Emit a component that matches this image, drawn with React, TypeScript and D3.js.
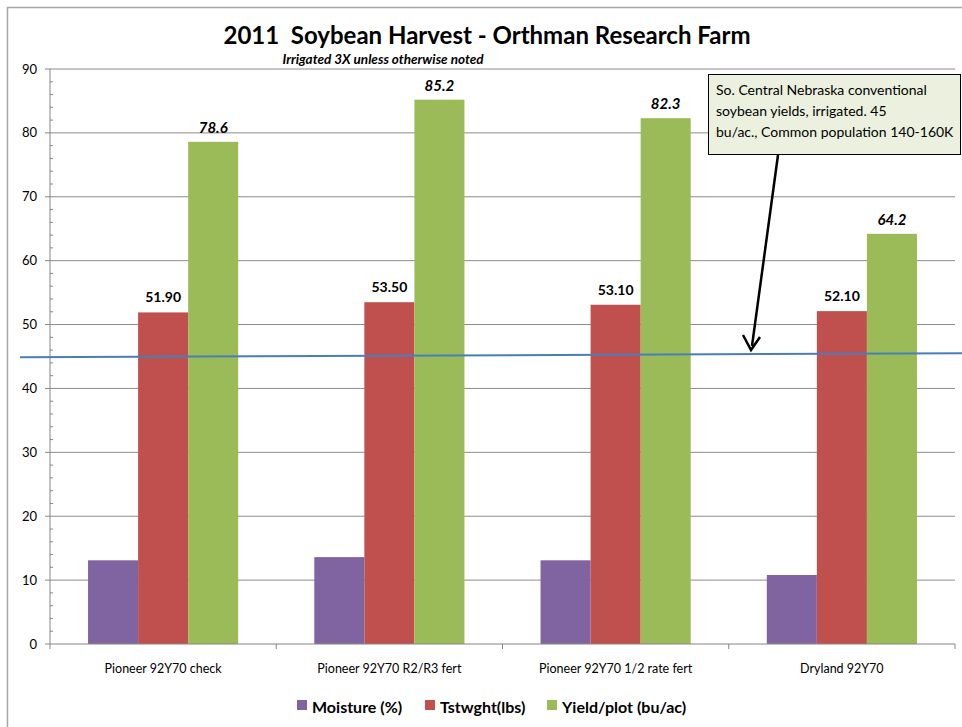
import React from 'react';
import * as d3 from 'd3';

const categories = ['Pioneer 92Y70 check', 'Pioneer 92Y70 R2/R3 fert', 'Pioneer 92Y70 1/2 rate fert', 'Dryland 92Y70'];
const seriesNames = ['Moisture (%)', 'Tstwght(lbs)', 'Yield/plot (bu/ac)'];
const moisture = [13.1, 13.6, 13.1, 10.8];
const tstwght = [51.9, 53.5, 53.1, 52.1];
const yieldPlot = [78.6, 85.2, 82.3, 64.2];
const yTicks = [0, 10, 20, 30, 40, 50, 60, 70, 80, 90];
const referenceYield = [44.9, 45.5];
const noteLines = [
  'So. Central Nebraska conventional',
  'soybean yields, irrigated. 45',
  'bu/ac., Common population 140-160K',
];

const colors = ['#8064A2', '#C0504D', '#9BBB59'];
const font = 'Lato, "Open Sans", Arial, sans-serif';

const W = 962;
const H = 727;
const margin = { left: 50, right: 7, top: 69, bottom: 83 };

const App: React.FC = () => {
  const x = d3.scaleBand<string>()
    .domain(categories)
    .range([margin.left, W - margin.right])
    .paddingInner(0)
    .paddingOuter(0);
  const y = d3.scaleLinear().domain([0, 90]).range([H - margin.bottom, margin.top]);
  const inner = d3.scaleBand<number>()
    .domain([0, 1, 2])
    .range([0, x.bandwidth()])
    .paddingOuter(0.76)
    .paddingInner(0);

  const series = [moisture, tstwght, yieldPlot];
  const minorTicks = d3.range(0, 90, 2).filter(v => v % 10 !== 0);
  const x0 = margin.left;
  const x1 = W - margin.right;

  return (
    <svg width={W} height={H} style={{ position: 'absolute', left: 0, top: 0, background: '#fff' }}>
      {/* chart frame */}
      <rect x={7.5} y={7.5} width={W + 10} height={H + 10} fill="#fff" stroke="#A6A6A6" strokeWidth={1.5} />

      <text x={487} y={44} textAnchor="middle" fontFamily={font} fontWeight="bold" fontSize={24} style={{ whiteSpace: 'pre' }}>
        {'2011  Soybean Harvest - Orthman Research Farm'}
      </text>
      <text x={383} y={64} textAnchor="middle" fontFamily={font} fontWeight="bold" fontStyle="italic" fontSize={13.5}>
        Irrigated 3X unless otherwise noted
      </text>

      {/* gridlines */}
      {yTicks.filter(t => t > 0).map(t => (
        <line key={t} x1={x0} x2={x1} y1={y(t)} y2={y(t)} stroke="#8C8C8C" strokeWidth={1} />
      ))}

      {/* bars */}
      {categories.map((c, i) => (
        <g key={c}>
          {series.map((s, j) => (
            <rect
              key={j}
              x={(x(c) ?? 0) + (inner(j) ?? 0)}
              y={y(s[i])}
              width={inner.bandwidth()}
              height={y(0) - y(s[i])}
              fill={colors[j]}
            />
          ))}
          <text
            x={(x(c) ?? 0) + (inner(1) ?? 0) + inner.bandwidth() / 2}
            y={y(tstwght[i]) - 10}
            textAnchor="middle"
            fontFamily={font}
            fontWeight="bold"
            fontSize={14}
          >
            {tstwght[i].toFixed(2)}
          </text>
          <text
            x={(x(c) ?? 0) + (inner(2) ?? 0) + inner.bandwidth() / 2}
            y={y(yieldPlot[i]) - 9}
            textAnchor="middle"
            fontFamily={font}
            fontWeight="bold"
            fontStyle="italic"
            fontSize={15}
          >
            {yieldPlot[i].toFixed(1)}
          </text>
          <text
            x={(x(c) ?? 0) + x.bandwidth() / 2}
            y={y(0) + 29}
            textAnchor="middle"
            fontFamily={font}
            fontSize={12.5}
          >
            {c}
          </text>
        </g>
      ))}

      {/* y axis */}
      <line x1={x0} x2={x0} y1={y(90)} y2={y(0)} stroke="#868686" strokeWidth={1} />
      {yTicks.map(t => (
        <g key={t}>
          <line x1={x0 - 5} x2={x0} y1={y(t)} y2={y(t)} stroke="#868686" />
          <text x={37} y={y(t) + 4.5} textAnchor="end" fontFamily={font} fontSize={13}>{t}</text>
        </g>
      ))}
      {minorTicks.map(t => (
        <line key={t} x1={x0} x2={x0 + 3} y1={y(t)} y2={y(t)} stroke="#868686" />
      ))}

      {/* x axis */}
      <line x1={x0} x2={x1} y1={y(0)} y2={y(0)} stroke="#868686" />
      {categories.concat(['end']).map((c, i) => {
        const xx = i < categories.length ? (x(c) ?? 0) : x1;
        return <line key={c} x1={xx} x2={xx} y1={y(0)} y2={y(0) + 5} stroke="#868686" />;
      })}

      {/* reference line */}
      <line x1={20} x2={W} y1={y(referenceYield[0])} y2={y(referenceYield[1])} stroke="#4A7EBB" strokeWidth={2} />

      {/* annotation */}
      <rect x={708.5} y={74.5} width={252} height={80} fill="#EBF1DE" stroke="#000" strokeWidth={1} />
      {noteLines.map((l, i) => (
        <text key={i} x={716} y={95 + i * 21} fontFamily={font} fontSize={14}>{l}</text>
      ))}
      <line x1={778} y1={155} x2={752} y2={346} stroke="#000" strokeWidth={2.5} />
      <path d="M743,335 L751,350 L760,337" fill="none" stroke="#000" strokeWidth={2.5} />

      {/* legend */}
      {seriesNames.map((n, i) => {
        const lx = [297, 425, 547][i];
        return (
          <g key={n}>
            <rect x={lx} y={700} width={10} height={10} fill={colors[i]} />
            <text x={lx + 15} y={713} fontFamily={font} fontWeight="bold" fontSize={16}>{n}</text>
          </g>
        );
      })}
    </svg>
  );
};

export default App;
